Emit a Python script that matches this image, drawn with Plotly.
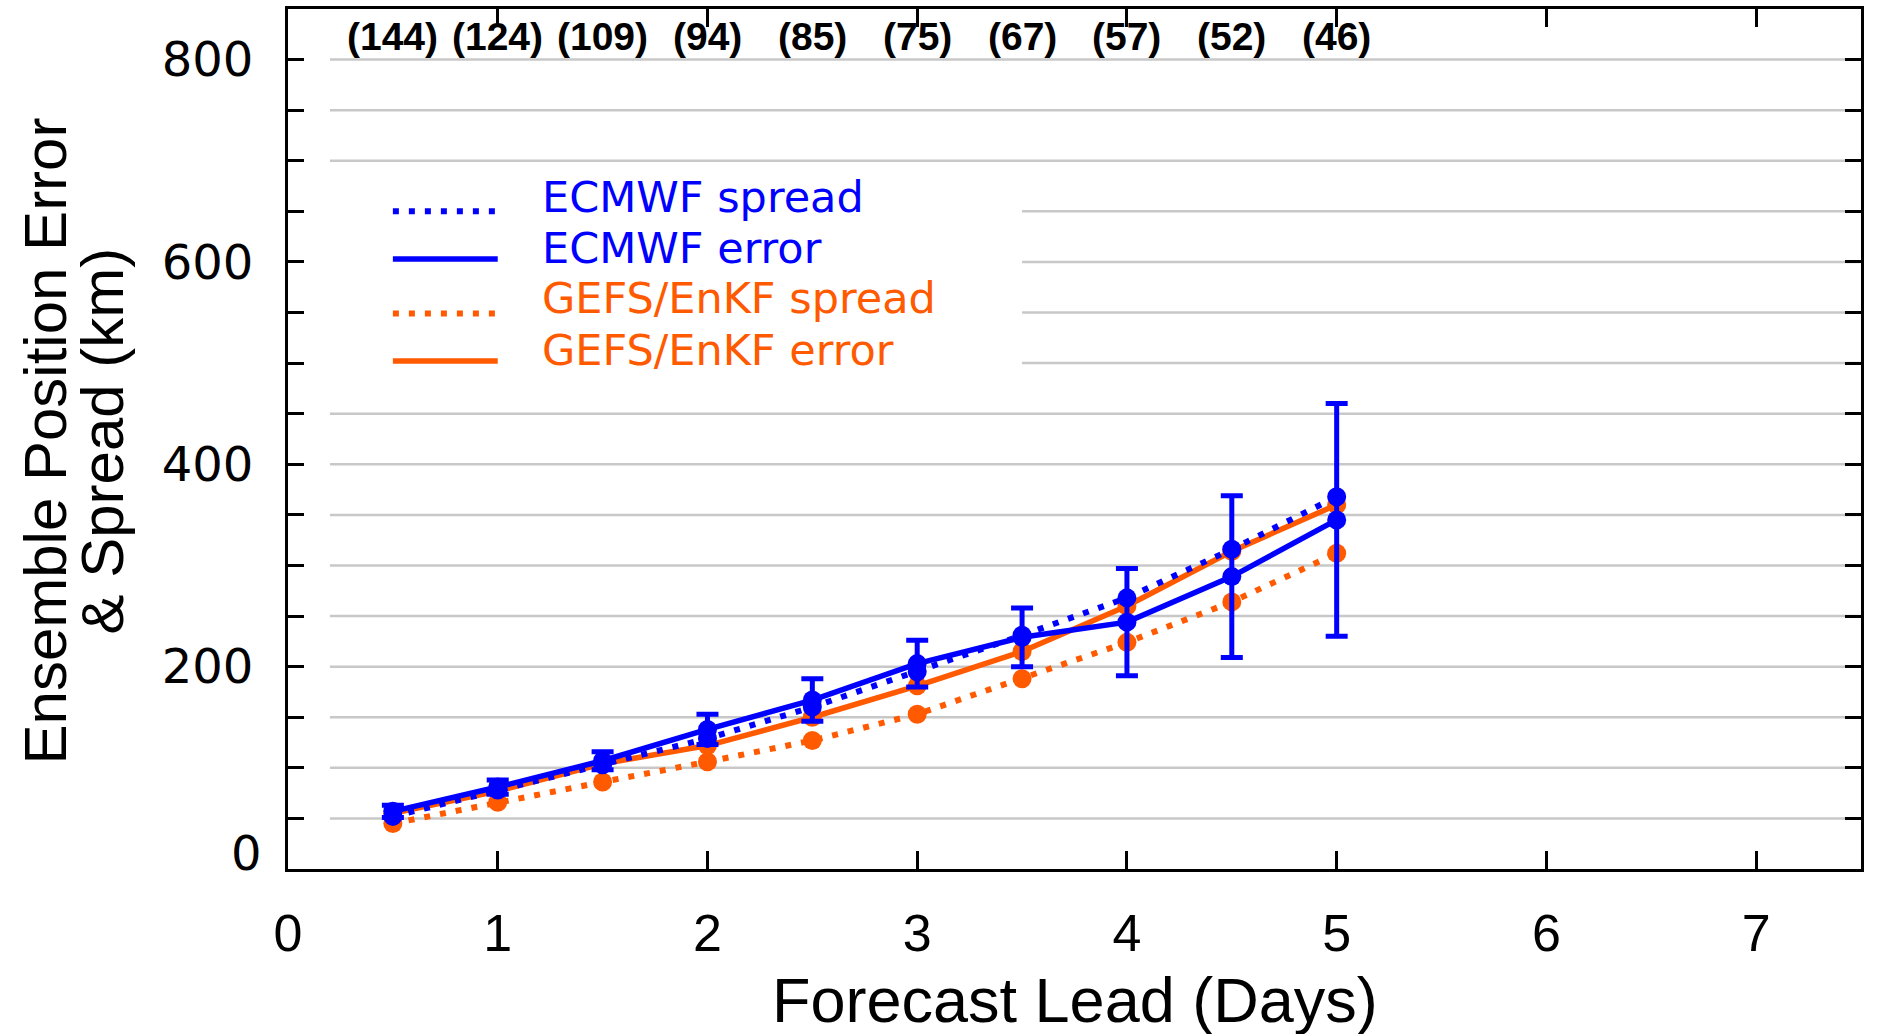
import plotly.graph_objects as go

# ---------------- data ----------------
days = [0.5, 1.0, 1.5, 2.0, 2.5, 3.0, 3.5, 4.0, 4.5, 5.0]
ecmwf_spread = [52, 78, 103, 129, 160, 195, 231, 268, 316, 368]
ecmwf_error = [57, 81, 107, 138, 167, 203, 229, 244, 289, 345]
ecmwf_error_bar = [6, 7, 9, 15, 21, 23, 29, 53, 80, 115]
gefs_spread = [45, 66, 86, 106, 127, 153, 188, 224, 264, 312]
gefs_error = [55, 77, 104, 122, 150, 181, 215, 260, 314, 360]
case_counts = ["(144)", "(124)", "(109)", "(94)", "(85)", "(75)", "(67)", "(57)", "(52)", "(46)"]

x_ticks = [0, 1, 2, 3, 4, 5, 6, 7]
y_ticks = list(range(0, 801, 50))
y_labels = {200: "200", 400: "400", 600: "600", 800: "800"}
grid_vals = list(range(50, 801, 50))

legend_names = ["ECMWF spread", "ECMWF error", "GEFS/EnKF spread", "GEFS/EnKF error"]

# ---------------- styles ----------------
BLUE = "#0000ff"
ORANGE = "#ff5a00"
DOT = "6px,10px"
LW = 5.5
DLW = 6
MS = 19
W, H = 1878, 1034
L, R, T, B = 288, 17, 6, 165

fig = go.Figure()

# horizontal grid lines (start a little right of the axis)
for v in grid_vals:
    fig.add_shape(type="line", xref="x", yref="y", x0=0.2, x1=7.5, y0=v, y1=v,
                  line=dict(color="#c8c8c8", width=2.5), layer="below")
# white box behind the legend
fig.add_shape(type="rect", xref="x", yref="y", x0=0.2, x1=3.5, y0=475, y1=680,
              fillcolor="white", line=dict(width=0), layer="below")

fig.add_trace(go.Scatter(x=days, y=gefs_spread, mode="lines+markers", name=legend_names[2],
                         line=dict(color=ORANGE, width=DLW, dash=DOT),
                         marker=dict(color=ORANGE, size=MS), showlegend=False))
fig.add_trace(go.Scatter(x=days, y=gefs_error, mode="lines+markers", name=legend_names[3],
                         line=dict(color=ORANGE, width=LW),
                         marker=dict(color=ORANGE, size=MS), showlegend=False))
fig.add_trace(go.Scatter(x=days, y=ecmwf_spread, mode="lines+markers", name=legend_names[0],
                         line=dict(color=BLUE, width=DLW, dash=DOT),
                         marker=dict(color=BLUE, size=MS), showlegend=False))
fig.add_trace(go.Scatter(x=days, y=ecmwf_error, mode="lines+markers", name=legend_names[1],
                         line=dict(color=BLUE, width=LW),
                         marker=dict(color=BLUE, size=MS),
                         error_y=dict(type="data", array=ecmwf_error_bar, visible=True,
                                      color=BLUE, thickness=5, width=11),
                         showlegend=False))

# ---------------- manual legend ----------------
legend_colors = [BLUE, BLUE, ORANGE, ORANGE]
legend_dash = [DOT, "solid", DOT, "solid"]
legend_width = [DLW, LW, DLW, LW]
legend_line_y = [650, 603, 549, 502]
legend_text_y = [664, 614, 564, 513]
for name, col, dash, lw, ly, ty in zip(legend_names, legend_colors, legend_dash, legend_width,
                                       legend_line_y, legend_text_y):
    fig.add_shape(type="line", xref="x", yref="y", x0=0.5, x1=1.0, y0=ly, y1=ly,
                  line=dict(color=col, width=lw, dash=dash))
    fig.add_annotation(x=1.2, y=ty, xref="x", yref="y", text=name, showarrow=False,
                       xanchor="left", yanchor="middle",
                       font=dict(family="DejaVu Sans", size=43, color=col))

# case counts along the top
for d, c in zip(days, case_counts):
    fig.add_annotation(x=d, y=823, xref="x", yref="y", text="<b>" + c + "</b>", showarrow=False,
                       xanchor="center", yanchor="middle",
                       font=dict(family="Liberation Sans", size=39, color="black"))

# y label "0" sits slightly above the bottom axis
fig.add_annotation(x=0, y=0, xref="paper", yref="y", text="0", showarrow=False,
                   xanchor="right", yanchor="middle", xshift=-24, yshift=16,
                   font=dict(family="DejaVu Sans", size=48, color="black"))

# y axis title (two lines)
pw = W - L - R
ph = H - T - B
fig.add_annotation(x=(45 - L) / pw, y=(869 - 440) / ph, xref="paper", yref="paper",
                   text="Ensemble Position Error", textangle=-90, showarrow=False,
                   xanchor="center", yanchor="middle",
                   font=dict(family="Liberation Sans", size=60, color="black"))
fig.add_annotation(x=(102 - L) / pw, y=(869 - 440) / ph, xref="paper", yref="paper",
                   text="&amp; Spread (km)", textangle=-90, showarrow=False,
                   xanchor="center", yanchor="middle",
                   font=dict(family="Liberation Sans", size=60, color="black"))
# x axis title
fig.add_annotation(x=0.5, y=(869 - 1000) / ph, xref="paper", yref="paper",
                   text="Forecast Lead (Days)", showarrow=False,
                   xanchor="center", yanchor="middle",
                   font=dict(family="Liberation Sans", size=63, color="black"))

fig.update_xaxes(range=[0, 7.5], tickvals=x_ticks, ticktext=[str(t) for t in x_ticks],
                 ticks="inside", ticklen=18, tickwidth=3, tickcolor="black",
                 showline=True, linewidth=3, linecolor="black", mirror="ticks",
                 showgrid=False, zeroline=False, ticklabelstandoff=17,
                 tickfont=dict(family="Liberation Sans", size=52, color="black"))
fig.update_yaxes(range=[0, 850], tickvals=y_ticks,
                 ticktext=[y_labels.get(v, "") for v in y_ticks],
                 ticks="inside", ticklen=16, tickwidth=3, tickcolor="black",
                 showline=True, linewidth=3, linecolor="black", mirror="ticks",
                 showgrid=False, zeroline=False, ticklabelstandoff=22,
                 tickfont=dict(family="DejaVu Sans", size=48, color="black"))

fig.update_layout(width=W, height=H, margin=dict(l=L, r=R, t=T, b=B),
                  paper_bgcolor="white", plot_bgcolor="white", showlegend=False)

fig.write_html("out.html")
